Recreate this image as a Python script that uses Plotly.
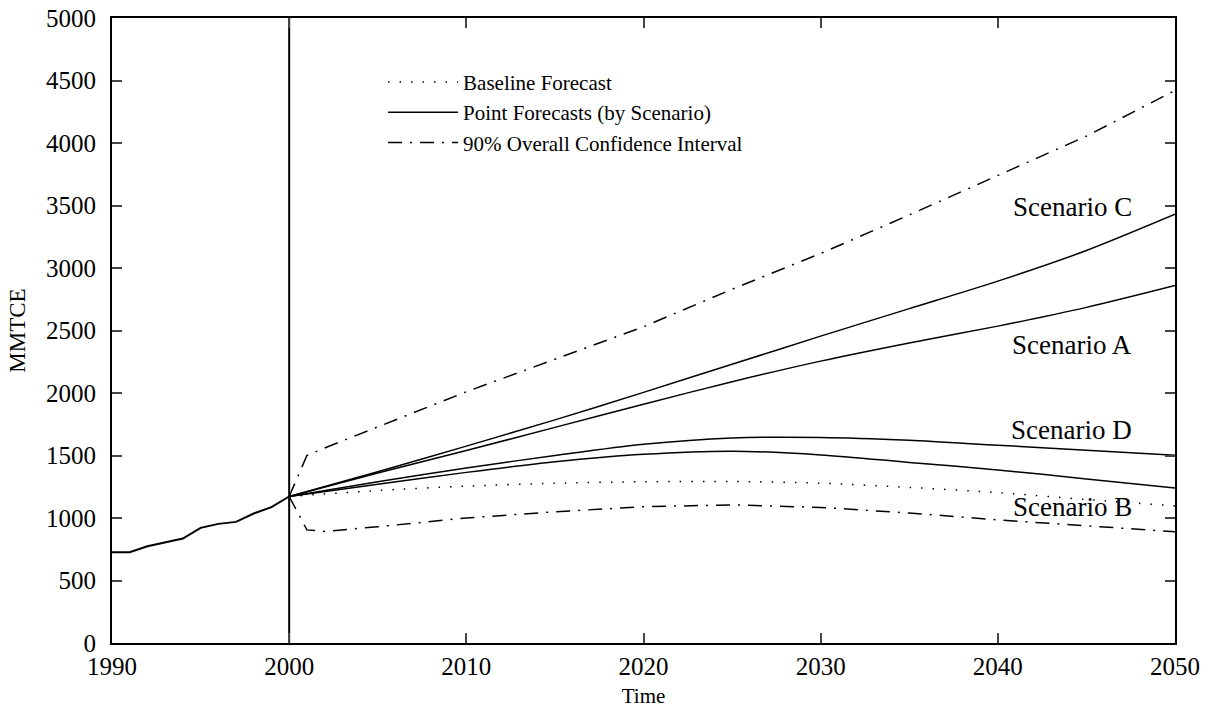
import plotly.graph_objects as go

# ---------------- data ----------------
hist_years = [1990, 1991, 1992, 1993, 1994, 1995, 1996, 1997, 1998, 1999, 2000]
hist_vals = [726, 726, 774, 806, 836, 921, 953, 969, 1036, 1087, 1172]

fc_years = [2000, 2005, 2010, 2015, 2020, 2025, 2030, 2035, 2040, 2045, 2050]
scen_c = [1172, 1370, 1575, 1785, 2005, 2230, 2455, 2675, 2895, 3140, 3430]
scen_a = [1172, 1360, 1540, 1725, 1910, 2090, 2255, 2400, 2535, 2685, 2860]
scen_d = [1172, 1290, 1400, 1500, 1590, 1640, 1645, 1622, 1582, 1543, 1502]
scen_b = [1172, 1270, 1365, 1450, 1510, 1535, 1505, 1445, 1385, 1313, 1240]
baseline = [1172, 1220, 1255, 1278, 1290, 1292, 1278, 1245, 1203, 1148, 1097]

ci_years = [2000, 2001, 2002, 2005, 2010, 2015, 2020, 2025, 2030, 2035, 2040, 2045, 2050]
ci_upper = [1172, 1500, 1560, 1730, 2010, 2270, 2530, 2830, 3116, 3425, 3740, 4055, 4420]
ci_lower = [1172, 905, 893, 930, 1000, 1050, 1090, 1105, 1085, 1040, 985, 940, 890]

forecast_start = 2000
label_x = 2047.7
scen_labels = ["Scenario C", "Scenario A", "Scenario D", "Scenario B"]
scen_label_y = [3486, 2383, 1704, 1089]

legend_names = ["Baseline Forecast", "Point Forecasts (by Scenario)",
                "90% Overall Confidence Interval"]

x_ticks = [1990, 2000, 2010, 2020, 2030, 2040, 2050]
y_ticks = list(range(0, 5001, 500))

FONT = "Liberation Serif, Times New Roman, serif"
BLACK = "black"
DOT = "1.5px,10px"
DASHDOT = "14px,8px,2px,8px"

fig = go.Figure()

fig.add_trace(go.Scatter(x=fc_years, y=baseline, mode="lines",
                         line=dict(color=BLACK, width=1.5, dash=DOT, shape="spline", smoothing=0.8),
                         name=legend_names[0], showlegend=True))
for i, s in enumerate([scen_c, scen_a, scen_d, scen_b]):
    fig.add_trace(go.Scatter(x=fc_years, y=s, mode="lines",
                             line=dict(color=BLACK, width=1.5, shape="spline", smoothing=0.8),
                             name=legend_names[1], showlegend=(i == 0),
                             legendgroup="pf"))
fig.add_trace(go.Scatter(x=ci_years, y=ci_upper, mode="lines",
                         line=dict(color=BLACK, width=1.5, dash=DASHDOT),
                         name=legend_names[2], showlegend=True, legendgroup="ci"))
fig.add_trace(go.Scatter(x=ci_years, y=ci_lower, mode="lines",
                         line=dict(color=BLACK, width=1.5, dash=DASHDOT),
                         name=legend_names[2], showlegend=False, legendgroup="ci"))

# history
fig.add_trace(go.Scatter(x=hist_years, y=hist_vals, mode="lines",
                         line=dict(color=BLACK, width=2), showlegend=False))

# vertical line at forecast start
fig.add_trace(go.Scatter(x=[forecast_start, forecast_start], y=[y_ticks[0], y_ticks[-1]],
                         mode="lines", line=dict(color=BLACK, width=2), showlegend=False))

for txt, yv in zip(scen_labels, scen_label_y):
    fig.add_annotation(x=label_x, y=yv, text=txt, showarrow=False,
                       xanchor="right", yanchor="middle",
                       font=dict(family=FONT, size=27, color=BLACK))

fig.update_layout(
    width=1210, height=711,
    margin=dict(l=112, r=35, t=18, b=68),
    paper_bgcolor="white", plot_bgcolor="white",
    font=dict(family=FONT, color=BLACK),
    legend=dict(x=0.255, y=0.93, xanchor="left", yanchor="top",
                bgcolor="rgba(0,0,0,0)", font=dict(family=FONT, size=21),
                itemwidth=70, tracegroupgap=0),
    xaxis=dict(range=[1990, 2050], tickvals=x_ticks, ticks="inside", ticklen=10,
               tickwidth=2, tickcolor="#444", showline=True, linecolor=BLACK, linewidth=2,
               mirror="ticks", showgrid=False, zeroline=False, automargin=False,
               ticklabeloverflow="allow",
               tickfont=dict(family=FONT, size=25),
               title=dict(text="Time", font=dict(family=FONT, size=21), standoff=9)),
    yaxis=dict(range=[0, 5000], tickvals=y_ticks, ticks="inside", ticklen=10,
               tickwidth=2, tickcolor="#444", showline=True, linecolor=BLACK, linewidth=2,
               mirror="ticks", showgrid=False, zeroline=False, automargin=False,
               ticklabelstandoff=9, ticklabeloverflow="allow",
               tickfont=dict(family=FONT, size=25),
               title=dict(text="MMTCE", font=dict(family=FONT, size=23), standoff=14)),
)

fig.write_html("out.html", config={"displayModeBar": False})

# remove the default 8px page margin so the figure fills the window exactly
with open("out.html", "r", encoding="utf-8") as f:
    html = f.read()
html = html.replace("<body>", '<body style="margin:0;overflow:hidden">', 1)
with open("out.html", "w", encoding="utf-8") as f:
    f.write(html)
